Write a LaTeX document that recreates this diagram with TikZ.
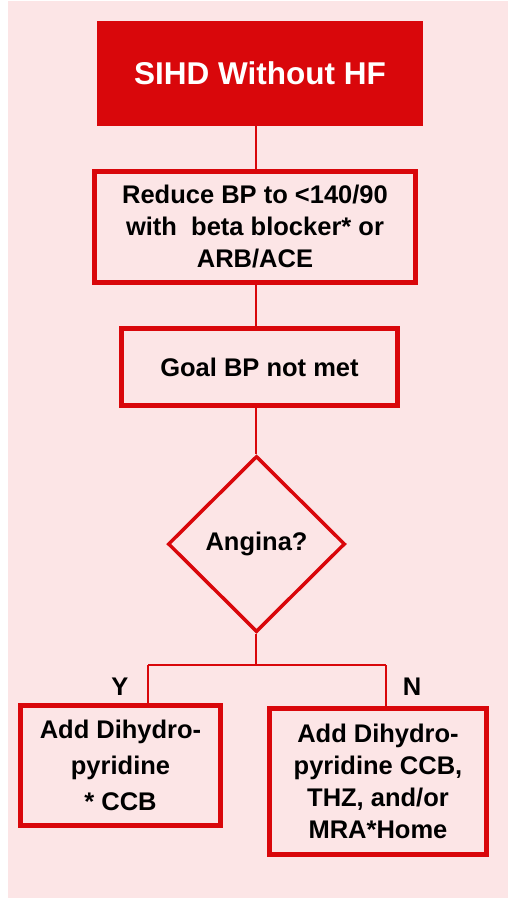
\documentclass[tikz,border=0pt]{standalone}
\usepackage{fontspec}
\setmainfont{Liberation Sans}
\usepackage{tikz}
\usetikzlibrary{shapes.geometric, positioning, calc}
\definecolor{sihdred}{RGB}{217,7,11}
\definecolor{sihdpink}{RGB}{252,229,230}

\begin{document}
\begin{tikzpicture}[x=1pt, y=-1pt,
        txt/.style={font=\fontsize{25.5}{32}\selectfont\bfseries, align=center, inner sep=0pt},
        stepbox/.style={txt, draw=sihdred, line width=5pt, rectangle},
        link/.style={draw=sihdred, line width=1.8pt}]
        % Page and background
        \useasboundingbox (0,0) rectangle (508,899);
        \fill [white] (0,0) rectangle (508,899);
        \fill [sihdpink] (8,1) rectangle (508,898);
        % Boxes
        \node [txt, fill=sihdred, text=white, font=\fontsize{31.5}{36}\selectfont\bfseries,
               minimum width=326, minimum height=105] (sihd) at (260,73.5) {SIHD Without HF};
        \node [stepbox, minimum width=321, minimum height=111] (bp) at (255,227)
              {Reduce BP to <140/90\\with~ beta blocker* or\\ARB/ACE};
        \node [stepbox, minimum width=276, minimum height=77] (goal) at (259.5,367) {Goal BP not met};
        \node [txt, diamond, aspect=1, draw=sihdred, line width=3.5pt,
               minimum width=177, minimum height=176] (angina) at (256.5,544) {Angina?};
        \node [stepbox, minimum width=200, minimum height=120, font=\fontsize{25.5}{36}\selectfont\bfseries]
              (yes) at (120.5,765.5) {Add Dihydro-\\pyridine\\* CCB};
        \node [stepbox, minimum width=217, minimum height=146] (no) at (378,781.5)
              {Add Dihydro-\\pyridine CCB,\\THZ, and/or\\MRA*Home};
        % Branch labels
        \node [txt] (ylab) at (120,687) {Y};
        \node [txt] (nlab) at (412,687) {N};
        % Connectors
        \coordinate (split) at (256,665);
        \coordinate (yjoin) at (148,665);
        \coordinate (njoin) at (386,665);
        \draw [link] (sihd.south -| split) -- (bp.north -| split);
        \draw [link] (bp.south -| split) -- (goal.north -| split);
        \draw [link] (goal.south -| split) -- (angina.north -| split);
        \draw [link] (angina.south -| split) -- (split);
        \draw [link] (yjoin) -- (njoin);
        \draw [link] (yjoin) -- (yjoin |- yes.north);
        \draw [link] (njoin) -- (njoin |- no.north);
    \end{tikzpicture}
\end{document}
